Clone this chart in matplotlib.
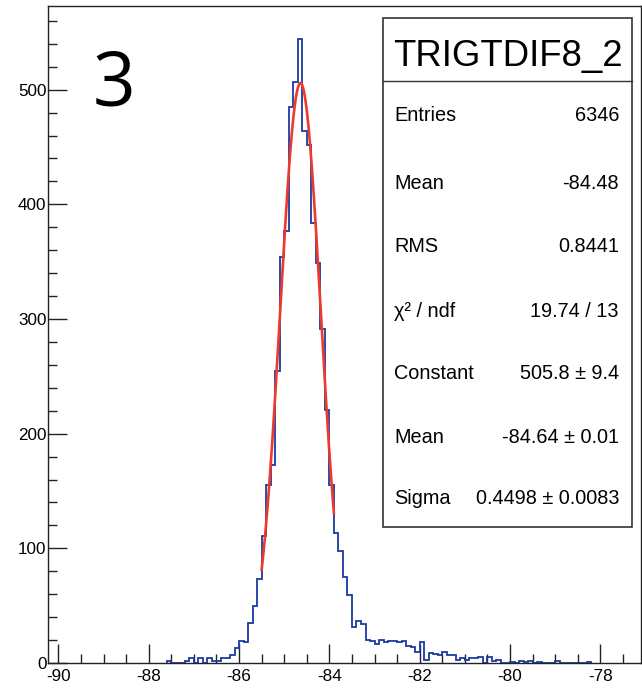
import numpy as np
import matplotlib
matplotlib.use("Agg")
import matplotlib.pyplot as plt
from matplotlib import font_manager as fm
from matplotlib.patches import Rectangle
from matplotlib.lines import Line2D
from matplotlib.ticker import MultipleLocator

#%% Histogram content (bins of 0.1 starting at -87.6)
bin_lo = -87.6
bin_width = 0.1
counts = [2, 0, 0, 0, 2, 4, 0, 4, 0, 4,
          2, 2, 4, 4, 7, 13, 19, 18, 35, 50,
          73, 111, 155, 173, 255, 354, 377, 485, 507, 544,
          464, 452, 384, 349, 291, 221, 155, 113, 98, 75,
          59, 31, 37, 34, 20, 19, 17, 20, 18, 19,
          19, 18, 19, 15, 14, 10, 18, 3, 9, 8,
          7, 10, 7, 7, 3, 4, 3, 4, 4, 5,
          0, 5, 2, 3, 0, 0, 1, 0, 2, 1,
          2, 0, 1, 0, 0, 0, 2, 0, 0, 0,
          0, 0, 0, 1]

# Gaussian fit result
fit_const = 505.8
fit_mean = -84.64
fit_sigma = 0.4498
fit_range = (-85.5, -83.9)

hist_name = "TRIGTDIF8_2"
stat_labels = ["Entries", "Mean", "RMS", "\u03c7\u00b2 / ndf", "Constant", "Mean", "Sigma"]
stat_values = ["6346", "-84.48", "0.8441", "19.74 / 13",
               "505.8 \u00b1 9.4", "-84.64 \u00b1 0.01", "0.4498 \u00b1 0.0083"]
x_ticks = [-90, -88, -86, -84, -82, -80, -78]
y_ticks = [0, 100, 200, 300, 400, 500]

#%% Pick a narrow font if there is one
avail = {f.name for f in fm.fontManager.ttflist}
if "Liberation Sans Narrow" in avail:
    font, k = "Liberation Sans Narrow", 1.0
else:
    font, k = "Liberation Sans", 0.82
plt.rcParams["font.family"] = [font, "DejaVu Sans"]
plt.rcParams["axes.unicode_minus"] = False

W, H = 642, 691
fig = plt.figure(figsize=(W / 100, H / 100), dpi=100)

def fx(px):
    return px / W

def fy(py):
    return 1 - py / H

ax = fig.add_axes([fx(48), fy(663), fx(641) - fx(48), fy(6) - fy(663)])

edges = bin_lo + bin_width * np.arange(len(counts) + 1)
ax.stairs(counts, edges, baseline=0, color="#1a3aa0", lw=1.3, zorder=2)

xf = np.linspace(fit_range[0], fit_range[1], 200)
yf = fit_const * np.exp(-0.5 * ((xf - fit_mean) / fit_sigma) ** 2)
ax.plot(xf, yf, color="#ee3a2e", lw=1.9, zorder=3)

ax.set_xlim(-90.23, -77.1)
ax.set_ylim(0, 573)
ax.set_xticks(x_ticks)
ax.set_yticks(y_ticks)
ax.xaxis.set_minor_locator(MultipleLocator(0.5))
ax.yaxis.set_minor_locator(MultipleLocator(20))
ax.tick_params(which="both", direction="in", top=False, right=False,
               width=1.0, color="#222222", labelsize=15 * k)
ax.tick_params(which="major", length=14)
ax.tick_params(which="minor", length=6.5)
ax.tick_params(axis="x", pad=4)
ax.tick_params(axis="y", pad=1)
for sp in ax.spines.values():
    sp.set_linewidth(1.0)
    sp.set_color("#222222")

#%% Panel number
fig.text(fx(114), fy(86), "3", family=["Open Sans", "DejaVu Sans"],
         fontsize=54, ha="center", va="center")

#%% Stats box
box_l, box_r, box_t, box_b, sep = 383, 632, 18, 527, 81
fig.add_artist(Rectangle((fx(box_l), fy(box_b)), fx(box_r) - fx(box_l),
                         fy(box_t) - fy(box_b), transform=fig.transFigure,
                         facecolor="white", edgecolor="#333333", lw=1.2,
                         zorder=5))
fig.add_artist(Line2D([fx(box_l), fx(box_r)], [fy(sep), fy(sep)],
                      transform=fig.transFigure, color="#333333", lw=1.0,
                      zorder=6))
fig.text(fx((box_l + box_r) / 2), fy(66), hist_name, fontsize=32 * k,
         ha="center", va="baseline", zorder=7)

row_base = [121, 189, 252, 317, 379, 443, 504]
for lab, val, yb in zip(stat_labels, stat_values, row_base):
    fig.text(fx(394), fy(yb), lab, fontsize=17.5 * k, ha="left",
             va="baseline", zorder=7)
    fig.text(fx(619), fy(yb), val, fontsize=17.5 * k, ha="right",
             va="baseline", zorder=7)

fig.savefig("out.png", dpi=100)
